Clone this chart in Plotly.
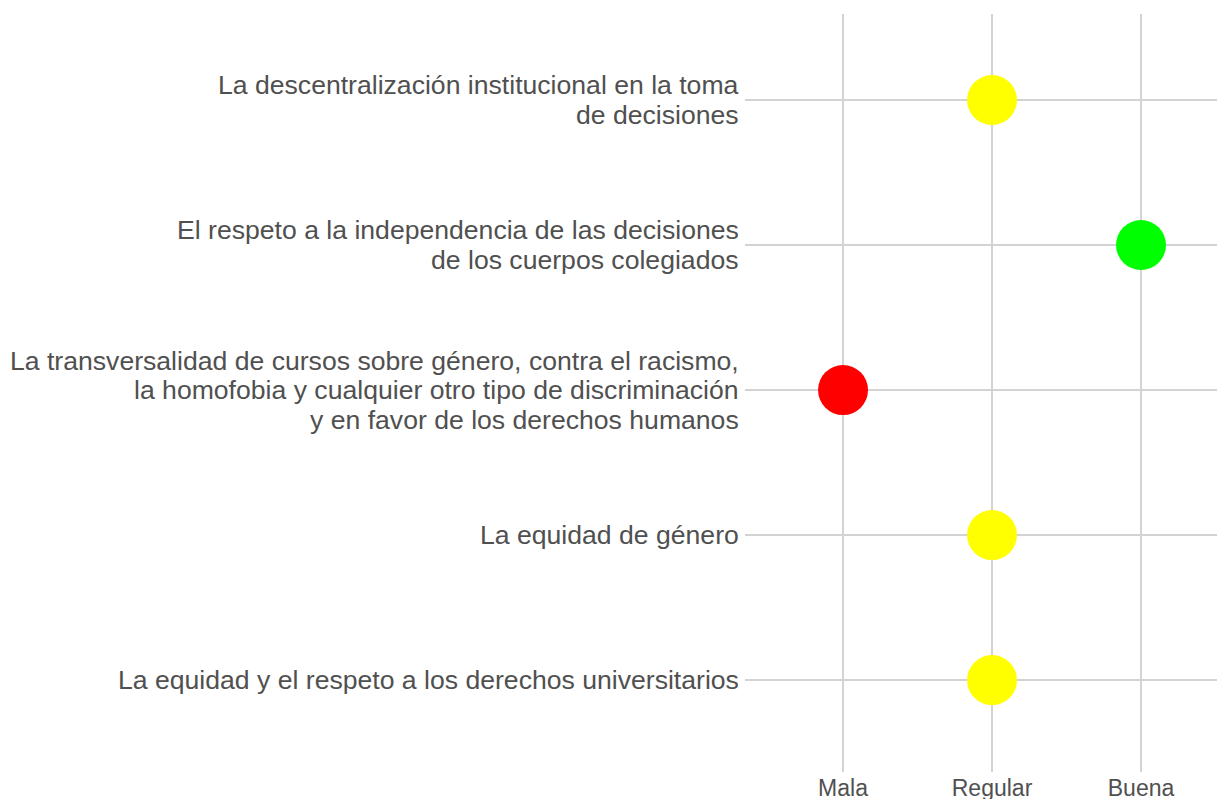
import plotly.graph_objects as go

categories = [
    "La equidad y el respeto a los derechos universitarios",
    "La equidad de género",
    "La transversalidad de cursos sobre género, contra el racismo,<br>la homofobia y cualquier otro tipo de discriminación<br>y en favor de los derechos humanos",
    "El respeto a la independencia de las decisiones<br>de los cuerpos colegiados",
    "La descentralización institucional en la toma<br>de decisiones",
]
ratings = ["Regular", "Regular", "Mala", "Buena", "Regular"]
rating_levels = ["Mala", "Regular", "Buena"]
level_colors = {"Mala": "#FF0000", "Regular": "#FFFF00", "Buena": "#00FF00"}

TEXT_COLOR = "#505050"
LABEL_SIZE = 26.6
LINE_GAP = 29.5

fig = go.Figure()
fig.add_trace(go.Scatter(
    x=[rating_levels.index(r) for r in ratings],
    y=list(range(len(categories))),
    mode="markers",
    marker=dict(size=50, color=[level_colors[r] for r in ratings], line=dict(width=0)),
    hoverinfo="skip",
))

# category labels, one line per annotation for tighter line spacing
for i, cat in enumerate(categories):
    lines = cat.split("<br>")
    n = len(lines)
    for k, line in enumerate(lines):
        off = (k - (n - 1) / 2) * LINE_GAP
        fig.add_annotation(
            xref="paper", yref="y", x=0, y=i, text=line,
            xanchor="right", yanchor="middle", showarrow=False,
            xshift=-4, yshift=-off,
            font=dict(size=LABEL_SIZE, color=TEXT_COLOR,
                      family="Liberation Sans, Arial, sans-serif"),
        )

fig.update_layout(
    width=1217, height=799,
    margin=dict(l=745, r=0, t=14, b=27, autoexpand=False),
    plot_bgcolor="white", paper_bgcolor="white",
    showlegend=False,
    font=dict(family="Liberation Sans, Arial, sans-serif", color=TEXT_COLOR),
)
fig.update_xaxes(
    range=[-0.658, 2.51], tickmode="array",
    tickvals=list(range(len(rating_levels))), ticktext=rating_levels,
    showgrid=True, gridcolor="#d3d3d3", gridwidth=2, zeroline=False,
    showline=False, ticks="", tickfont=dict(size=23, color=TEXT_COLOR),
    automargin=False,
)
fig.update_yaxes(
    range=[-0.634, 4.593], tickmode="array",
    tickvals=list(range(len(categories))), showticklabels=False,
    showgrid=True, gridcolor="#d3d3d3", gridwidth=2, zeroline=False,
    showline=False, ticks="",
    automargin=False,
)
fig.write_html("out.html", config={"displayModeBar": False},
               post_script="document.body.style.margin='0px';")
